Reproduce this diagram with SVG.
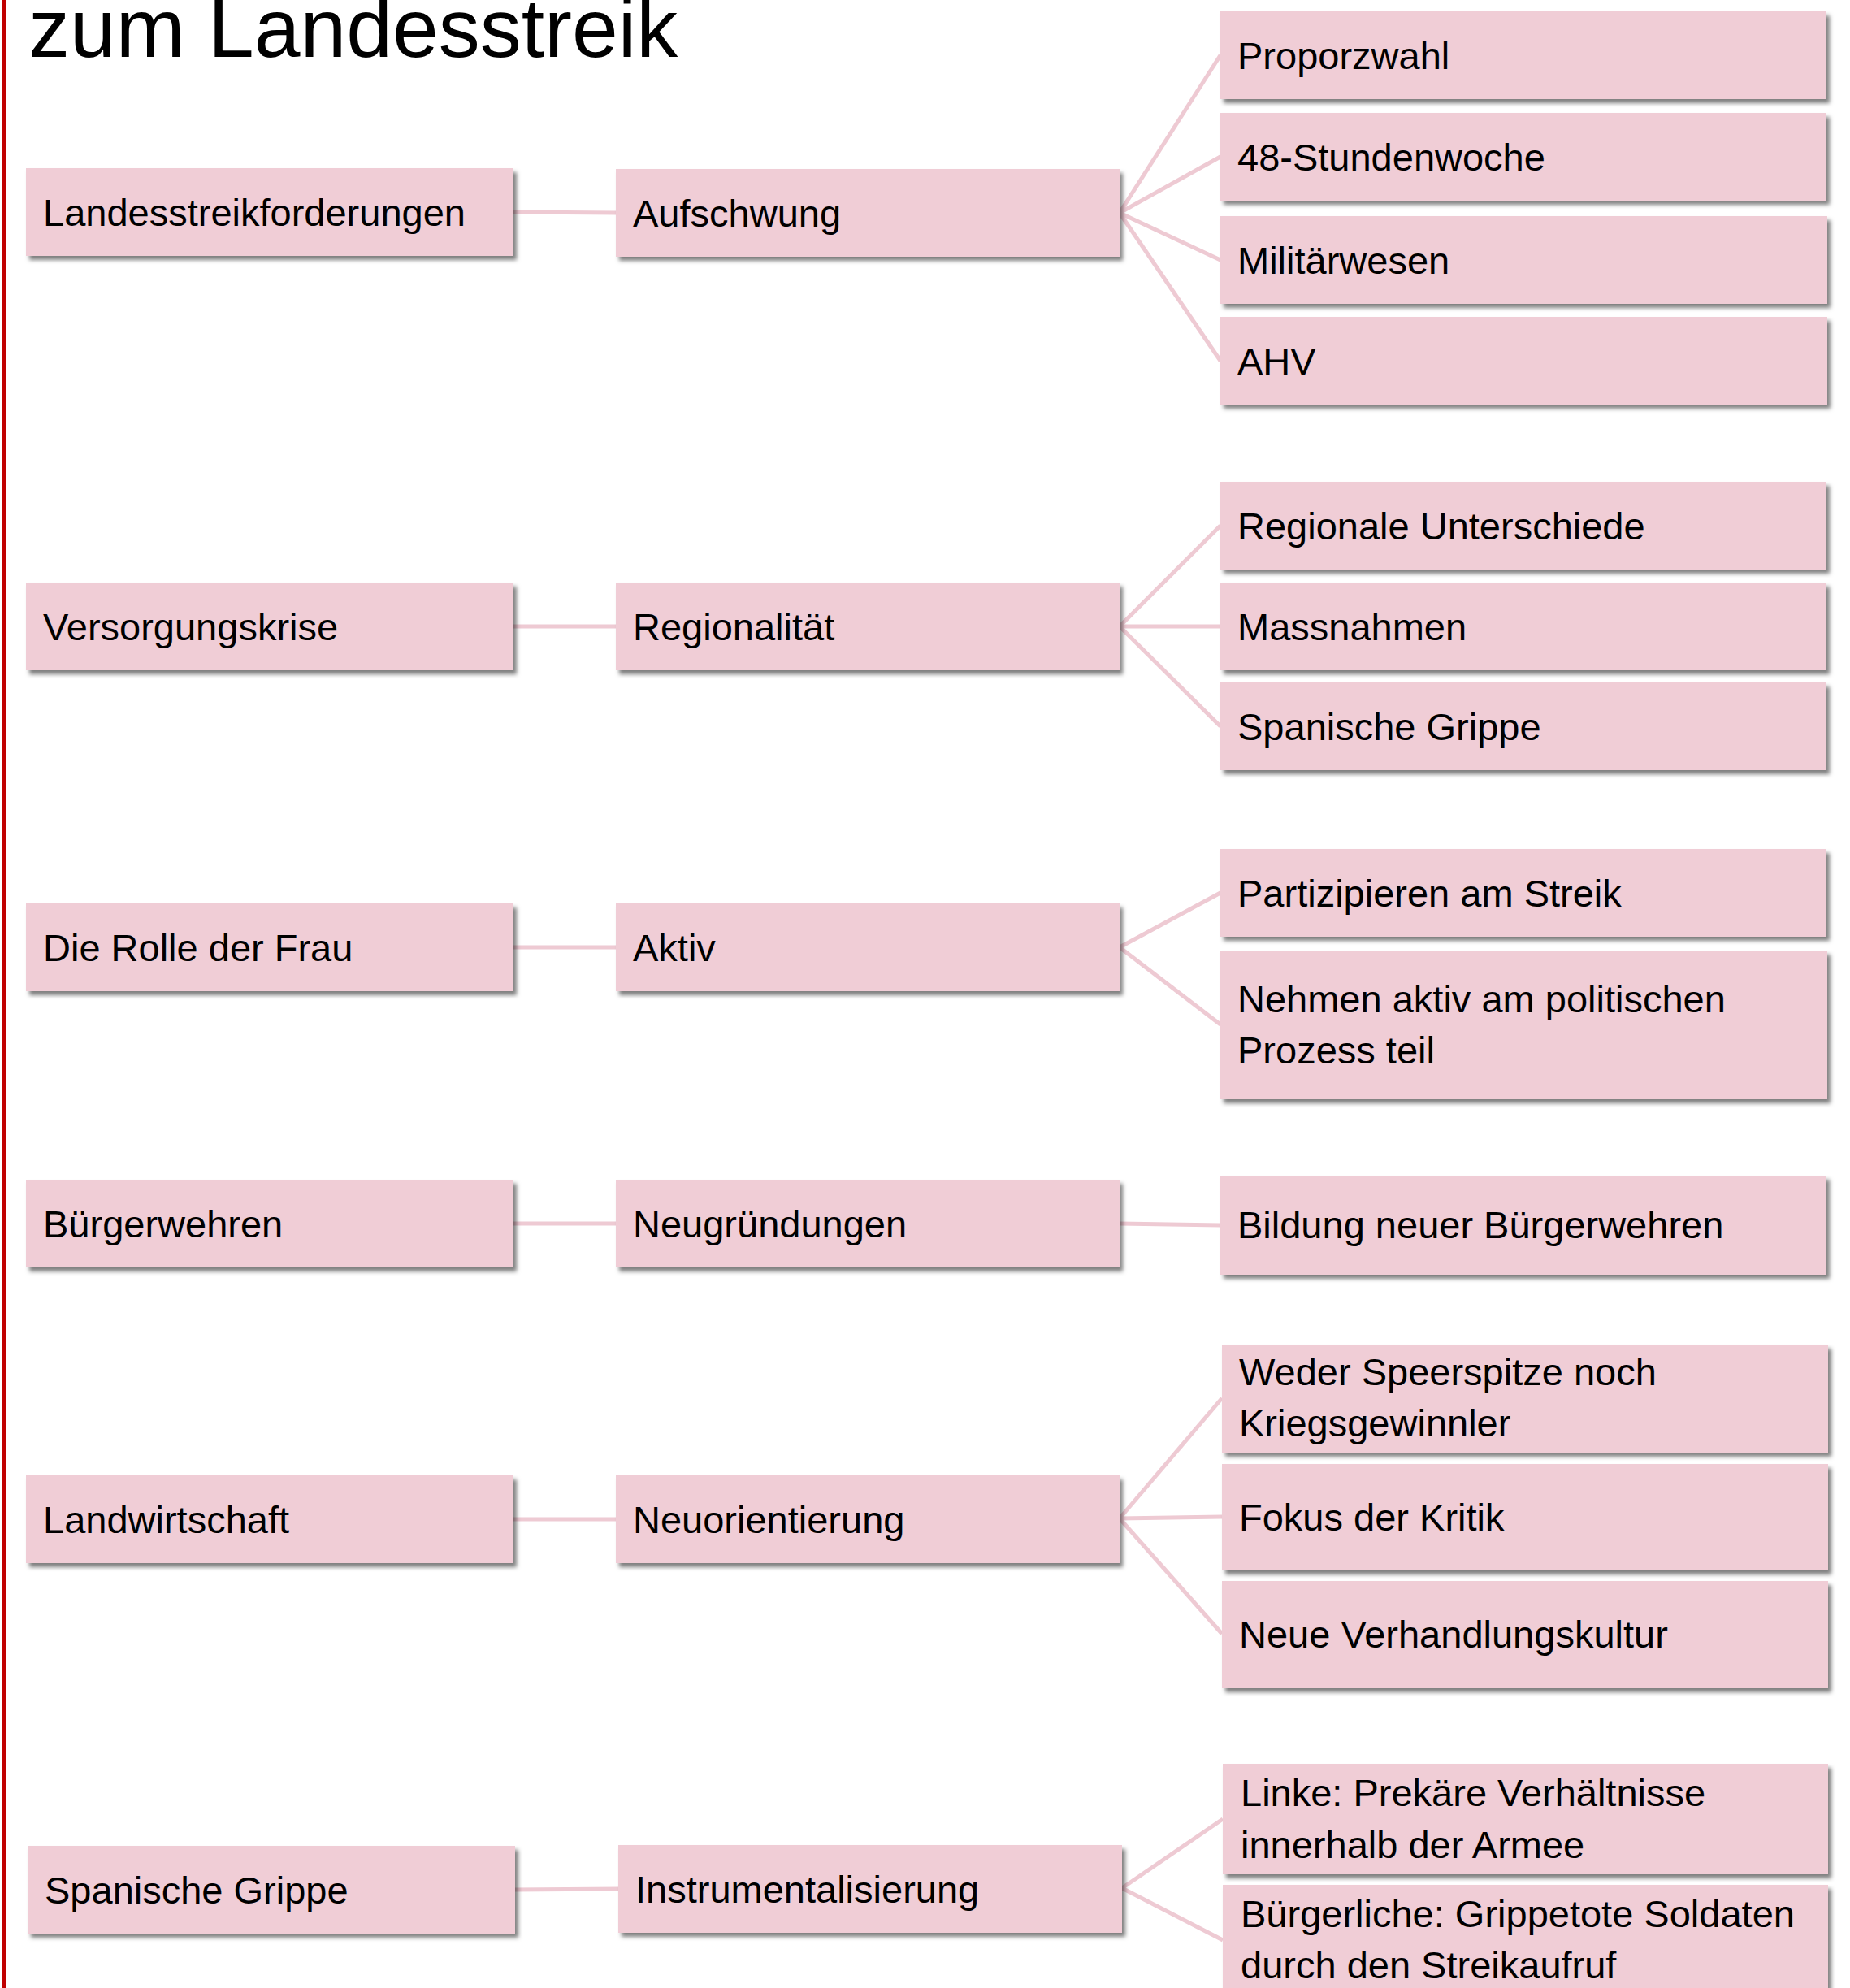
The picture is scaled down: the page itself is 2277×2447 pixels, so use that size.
<svg xmlns="http://www.w3.org/2000/svg" width="2277" height="2447" viewBox="0 0 2277 2447">
<defs>
<filter id="sh" x="-5%" y="-10%" width="115%" height="130%">
<feDropShadow dx="4" dy="5" stdDeviation="2.5" flood-color="#000" flood-opacity="0.5"/>
</filter>
<style>
.box{fill:#F0CDD6;filter:url(#sh)}
.t{font-family:"Liberation Sans",Arial,sans-serif;font-size:47px;fill:#000}
.title{font-family:"Liberation Sans",Arial,sans-serif;font-size:102px;fill:#000}
.c{stroke:#EECAD3;stroke-width:5;fill:none}
</style>
</defs>
<rect x="0" y="0" width="2277" height="2447" fill="#fff"/>
<rect x="2" y="0" width="5" height="2447" fill="#C00000"/>
<text class="title" x="35" y="70">zum Landesstreik</text>

<g id="connectors">
<line class="c" x1="632" y1="261" x2="758" y2="262"/>
<line class="c" x1="1378" y1="262" x2="1502" y2="68"/>
<line class="c" x1="1378" y1="262" x2="1502" y2="193"/>
<line class="c" x1="1378" y1="262" x2="1502" y2="320"/>
<line class="c" x1="1378" y1="262" x2="1502" y2="444"/>

<line class="c" x1="632" y1="771" x2="758" y2="771"/>
<line class="c" x1="1378" y1="771" x2="1502" y2="647"/>
<line class="c" x1="1378" y1="771" x2="1502" y2="771"/>
<line class="c" x1="1378" y1="771" x2="1502" y2="894"/>

<line class="c" x1="632" y1="1166" x2="758" y2="1166"/>
<line class="c" x1="1378" y1="1166" x2="1502" y2="1099"/>
<line class="c" x1="1378" y1="1166" x2="1502" y2="1261"/>

<line class="c" x1="632" y1="1506" x2="758" y2="1506"/>
<line class="c" x1="1378" y1="1506" x2="1502" y2="1508"/>

<line class="c" x1="632" y1="1870" x2="758" y2="1870"/>
<line class="c" x1="1378" y1="1869" x2="1504" y2="1721"/>
<line class="c" x1="1378" y1="1869" x2="1504" y2="1867"/>
<line class="c" x1="1378" y1="1869" x2="1504" y2="2011"/>

<line class="c" x1="634" y1="2326" x2="761" y2="2325"/>
<line class="c" x1="1381" y1="2324" x2="1505" y2="2239"/>
<line class="c" x1="1381" y1="2324" x2="1505" y2="2388"/>
</g>

<g id="n-landesstreikforderungen"><rect class="box" x="32" y="207" width="600" height="108"/><text class="t" x="53" y="278">Landesstreikforderungen</text></g>
<g id="n-aufschwung"><rect class="box" x="758" y="208" width="620" height="108"/><text class="t" x="779" y="279">Aufschwung</text></g>
<g id="n-proporzwahl"><rect class="box" x="1502" y="14" width="746" height="108"/><text class="t" x="1523" y="85">Proporzwahl</text></g>
<g id="n-48stunden"><rect class="box" x="1502" y="139" width="746" height="108"/><text class="t" x="1523" y="210">48-Stundenwoche</text></g>
<g id="n-militaer"><rect class="box" x="1502" y="266" width="747" height="108"/><text class="t" x="1523" y="337">Militärwesen</text></g>
<g id="n-ahv"><rect class="box" x="1502" y="390" width="747" height="108"/><text class="t" x="1523" y="461">AHV</text></g>

<g id="n-versorgungskrise"><rect class="box" x="32" y="717" width="600" height="108"/><text class="t" x="53" y="788">Versorgungskrise</text></g>
<g id="n-regionalitaet"><rect class="box" x="758" y="717" width="620" height="108"/><text class="t" x="779" y="788">Regionalität</text></g>
<g id="n-regionale"><rect class="box" x="1502" y="593" width="746" height="108"/><text class="t" x="1523" y="664">Regionale Unterschiede</text></g>
<g id="n-massnahmen"><rect class="box" x="1502" y="717" width="746" height="108"/><text class="t" x="1523" y="788">Massnahmen</text></g>
<g id="n-spanische1"><rect class="box" x="1502" y="840" width="746" height="108"/><text class="t" x="1523" y="911">Spanische Grippe</text></g>

<g id="n-rollefrau"><rect class="box" x="32" y="1112" width="600" height="108"/><text class="t" x="53" y="1183">Die Rolle der Frau</text></g>
<g id="n-aktiv"><rect class="box" x="758" y="1112" width="620" height="108"/><text class="t" x="779" y="1183">Aktiv</text></g>
<g id="n-partizipieren"><rect class="box" x="1502" y="1045" width="746" height="108"/><text class="t" x="1523" y="1116">Partizipieren am Streik</text></g>
<g id="n-nehmen"><rect class="box" x="1502" y="1170" width="747" height="183"/><text class="t" x="1523" y="1246">Nehmen aktiv am politischen</text><text class="t" x="1523" y="1309">Prozess teil</text></g>

<g id="n-buergerwehren"><rect class="box" x="32" y="1452" width="600" height="108"/><text class="t" x="53" y="1523">Bürgerwehren</text></g>
<g id="n-neugruendungen"><rect class="box" x="758" y="1452" width="620" height="108"/><text class="t" x="779" y="1523">Neugründungen</text></g>
<g id="n-bildung"><rect class="box" x="1502" y="1447" width="746" height="122"/><text class="t" x="1523" y="1524">Bildung neuer Bürgerwehren</text></g>

<g id="n-landwirtschaft"><rect class="box" x="32" y="1816" width="600" height="108"/><text class="t" x="53" y="1887">Landwirtschaft</text></g>
<g id="n-neuorientierung"><rect class="box" x="758" y="1816" width="620" height="108"/><text class="t" x="779" y="1887">Neuorientierung</text></g>
<g id="n-weder"><rect class="box" x="1504" y="1655" width="746" height="133"/><text class="t" x="1525" y="1705">Weder Speerspitze noch</text><text class="t" x="1525" y="1768">Kriegsgewinnler</text></g>
<g id="n-fokus"><rect class="box" x="1504" y="1802" width="746" height="131"/><text class="t" x="1525" y="1884">Fokus der Kritik</text></g>
<g id="n-neue"><rect class="box" x="1504" y="1946" width="746" height="132"/><text class="t" x="1525" y="2028">Neue Verhandlungskultur</text></g>

<g id="n-spanische2"><rect class="box" x="34" y="2272" width="600" height="108"/><text class="t" x="55" y="2343">Spanische Grippe</text></g>
<g id="n-instrumentalisierung"><rect class="box" x="761" y="2271" width="620" height="108"/><text class="t" x="782" y="2342">Instrumentalisierung</text></g>
<g id="n-linke"><rect class="box" x="1505" y="2171" width="745" height="136"/><text class="t" x="1527" y="2223">Linke: Prekäre Verhältnisse</text><text class="t" x="1527" y="2287">innerhalb der Armee</text></g>
<g id="n-buergerliche"><rect class="box" x="1505" y="2320" width="745" height="136"/><text class="t" x="1527" y="2372">Bürgerliche: Grippetote Soldaten</text><text class="t" x="1527" y="2435">durch den Streikaufruf</text></g>
</svg>
